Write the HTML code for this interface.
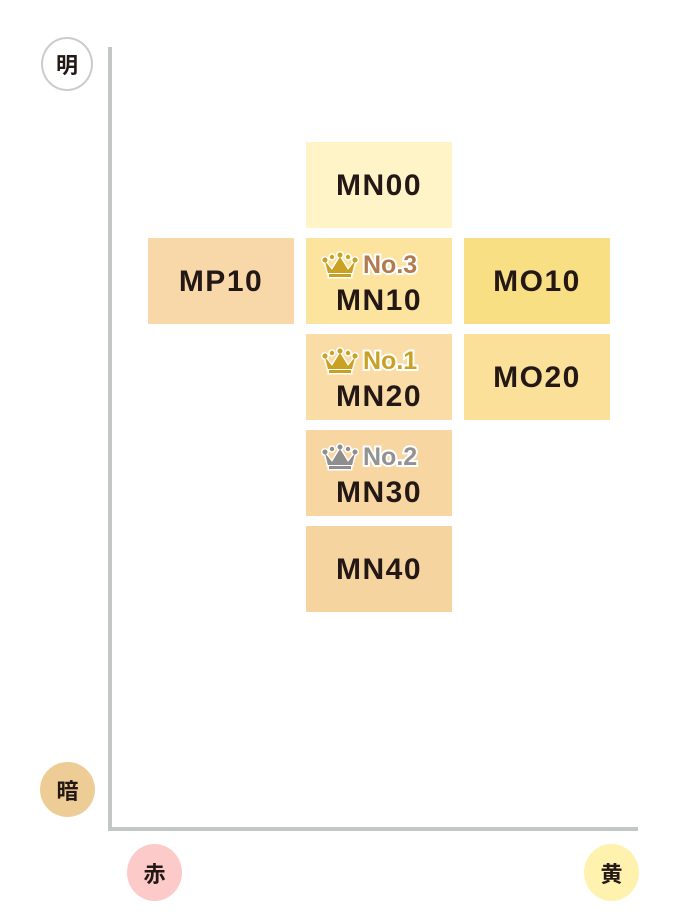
<!DOCTYPE html>
<html><head><meta charset="utf-8"><style>
body{margin:0;width:698px;height:920px;background:#fff;position:relative;overflow:hidden;font-family:"Liberation Sans","Noto Sans CJK JP",sans-serif}
.b{position:absolute;width:146px;height:86px;color:#231815;font-weight:bold;font-size:30px;letter-spacing:1.5px;text-align:center}
.b .t{position:absolute;left:0;right:0;line-height:30px}
.c{position:absolute;border-radius:50%;text-align:center;font-weight:bold;font-size:22px;color:#231815;display:flex;align-items:center;justify-content:center}
.bd{position:absolute;left:15px;top:13px;height:28px;display:flex;align-items:center;font-size:25px;font-weight:bold;letter-spacing:0;-webkit-text-stroke:4px #fff;paint-order:stroke fill}
.bd span{paint-order:stroke fill;margin-left:4px}
</style></head><body>
<div style="position:absolute;left:108px;top:47px;width:4px;height:784px;background:#c3c7c3"></div>
<div style="position:absolute;left:108px;top:827px;width:530px;height:4px;background:#c3c7c3"></div>
<div class="c" style="left:41px;top:37px;width:48px;height:50px;border:2px solid #ccc;background:#fff">明</div>
<div class="c" style="left:40px;top:762px;width:55px;height:55px;background:#edcd95">暗</div>
<div class="c" style="left:127px;top:844px;width:55px;height:57px;background:#fdcaca">赤</div>
<div class="c" style="left:584px;top:844px;width:55px;height:57px;background:#fff1ae">黄</div>

<div class="b" style="left:306px;top:142px;background:#fff3c8"><div class="t" style="top:29px">MN00</div></div>
<div class="b" style="left:148px;top:238px;background:#f8d8a8"><div class="t" style="top:29px">MP10</div></div>
<div class="b" style="left:306px;top:238px;background:#fce39e">
<div class="bd"><svg width="38" height="28" viewBox="0 0 38 28"><g stroke="#fff" stroke-width="3" fill="#c9a224"><path d="M4 10 L11 19 L19 6 L27 19 L34 10 L31 22 L7 22Z"/><rect x="8" y="23" width="22" height="3"/><circle cx="4" cy="9" r="2.5"/><circle cx="34" cy="9" r="2.5"/><circle cx="19" cy="4" r="2.5"/><circle cx="11" cy="6" r="2.2"/><circle cx="27" cy="6" r="2.2"/></g><g fill="#c9a224"><path d="M4 10 L11 19 L19 6 L27 19 L34 10 L31 22 L7 22Z"/><rect x="8" y="23" width="22" height="3"/></g></svg><span style="color:#b07b50">No.3</span></div>
<div class="t" style="top:48px">MN10</div></div>
<div class="b" style="left:464px;top:238px;background:#f9df84"><div class="t" style="top:29px">MO10</div></div>
<div class="b" style="left:306px;top:334px;background:#f9dca6">
<div class="bd"><svg width="38" height="28" viewBox="0 0 38 28"><g stroke="#fff" stroke-width="3" fill="#c9a224"><path d="M4 10 L11 19 L19 6 L27 19 L34 10 L31 22 L7 22Z"/><rect x="8" y="23" width="22" height="3"/><circle cx="4" cy="9" r="2.5"/><circle cx="34" cy="9" r="2.5"/><circle cx="19" cy="4" r="2.5"/><circle cx="11" cy="6" r="2.2"/><circle cx="27" cy="6" r="2.2"/></g><g fill="#c9a224"><path d="M4 10 L11 19 L19 6 L27 19 L34 10 L31 22 L7 22Z"/><rect x="8" y="23" width="22" height="3"/></g></svg><span style="color:#c8a226">No.1</span></div>
<div class="t" style="top:48px">MN20</div></div>
<div class="b" style="left:464px;top:334px;background:#fbe09a"><div class="t" style="top:29px">MO20</div></div>
<div class="b" style="left:306px;top:430px;background:#f8d6a2">
<div class="bd"><svg width="38" height="28" viewBox="0 0 38 28"><g stroke="#fff" stroke-width="3" fill="#8e8e8e"><path d="M4 10 L11 19 L19 6 L27 19 L34 10 L31 22 L7 22Z"/><rect x="8" y="23" width="22" height="3"/><circle cx="4" cy="9" r="2.5"/><circle cx="34" cy="9" r="2.5"/><circle cx="19" cy="4" r="2.5"/><circle cx="11" cy="6" r="2.2"/><circle cx="27" cy="6" r="2.2"/></g><g fill="#8e8e8e"><path d="M4 10 L11 19 L19 6 L27 19 L34 10 L31 22 L7 22Z"/><rect x="8" y="23" width="22" height="3"/></g></svg><span style="color:#929292">No.2</span></div>
<div class="t" style="top:48px">MN30</div></div>
<div class="b" style="left:306px;top:526px;background:#f6d4a0"><div class="t" style="top:29px">MN40</div></div>
</body></html>
